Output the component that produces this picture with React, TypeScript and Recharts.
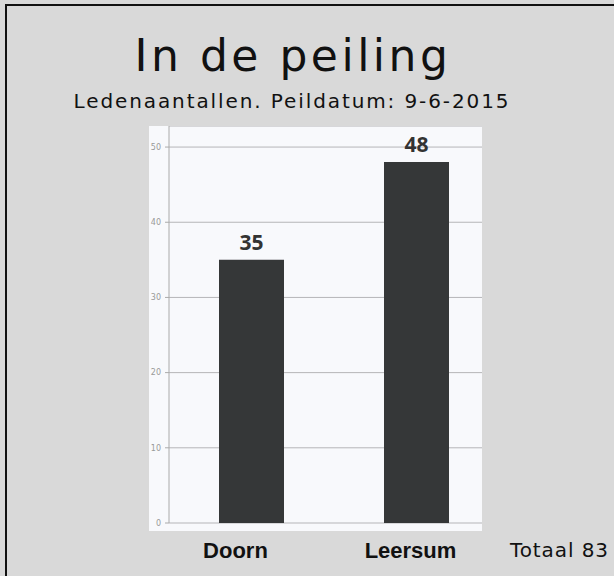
import { BarChart, Bar, XAxis, YAxis, CartesianGrid, LabelList } from "recharts";

const places = ["Doorn", "Leersum"];
const members = [35, 48];
const yTicks = [0, 10, 20, 30, 40, 50];
const total = 83;

const data = places.map((p, i) => ({ place: p, members: members[i] }));

// labels in the original sit a little left of the bar centres
const LABEL_SHIFT = [-16, -6];

function PlaceTick(props: { x?: number; y?: number; payload?: { value: string }; index?: number }) {
  const { x = 0, y = 0, payload, index = 0 } = props;
  return (
    <text
      x={x + (LABEL_SHIFT[index] ?? 0)}
      y={y}
      dy={35}
      textAnchor="middle"
      fontFamily="'Liberation Sans', Arial, sans-serif"
      fontWeight="bold"
      fontSize={22}
      fill="#111"
    >
      {payload?.value}
    </text>
  );
}

export default function App() {
  return (
    <div
      style={{
        position: "fixed",
        left: 0,
        top: 0,
        width: 614,
        height: 576,
        background: "#d9d9d9",
        overflow: "hidden",
        fontFamily: "'DejaVu Sans', sans-serif",
      }}
    >
      <div
        style={{
          position: "absolute",
          left: 5,
          top: 4,
          width: 700,
          height: 700,
          borderLeft: "2px solid #111",
          borderTop: "2px solid #111",
        }}
      />
      <div
        style={{
          position: "absolute",
          left: 0,
          width: 586,
          top: 30,
          textAlign: "center",
          fontSize: 44,
          letterSpacing: 3.5,
          color: "#111",
          lineHeight: "52px",
        }}
      >
        In de peiling
      </div>
      <div
        style={{
          position: "absolute",
          left: 0,
          width: 584,
          top: 89,
          textAlign: "center",
          fontSize: 20,
          letterSpacing: 1.9,
          color: "#111",
          lineHeight: "24px",
        }}
      >
        Ledenaantallen. Peildatum: 9-6-2015
      </div>
      <div
        style={{
          position: "absolute",
          left: 149,
          top: 126,
          width: 333,
          height: 405,
          background: "#f8f9fc",
        }}
      />
      <div style={{ position: "absolute", left: 149, top: 126 }}>
        <BarChart
          width={360}
          height={450}
          data={data}
          margin={{ top: 0, right: 10, left: 0, bottom: 23 }}
        >
          <CartesianGrid vertical={false} stroke="#b5b5b8" width={313} />
          <XAxis
            dataKey="place"
            axisLine={false}
            tickLine={false}
            tickSize={0}
            tickMargin={0}
            height={30}
            tick={<PlaceTick />}
          />
          <YAxis
            width={20}
            domain={[0, 52.8]}
            ticks={yTicks}
            interval={0}
            tickSize={4}
            tickMargin={4}
            axisLine={{ stroke: "#aaa" }}
            tickLine={{ stroke: "#aaa" }}
            tick={{ fontSize: 8, fill: "#999", fontFamily: "'DejaVu Sans', sans-serif" }}
          />
          <Bar dataKey="members" fill="#353738" barSize={65} isAnimationActive={false}>
            <LabelList
              dataKey="members"
              position="top"
              offset={10}
              fill="#333"
              fontSize={21}
              fontWeight="bold"
              fontFamily="'Open Sans', sans-serif"
            />
          </Bar>
        </BarChart>
      </div>
      <div
        style={{
          position: "absolute",
          left: 510,
          top: 538,
          fontSize: 20,
          letterSpacing: 0.9,
          color: "#111",
          lineHeight: "24px",
          whiteSpace: "nowrap",
        }}
      >
        Totaal {total}
      </div>
    </div>
  );
}
